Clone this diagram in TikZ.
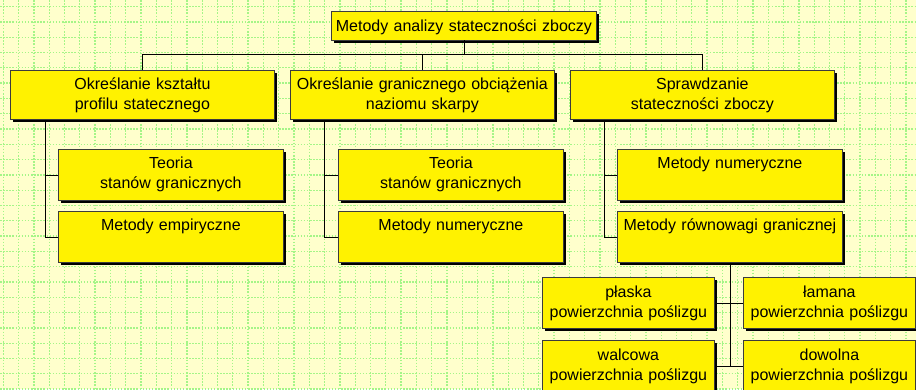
\documentclass[tikz,border=0pt]{standalone}
\usepackage{fontspec}
\setmainfont{Liberation Sans}
\usetikzlibrary{shadows}
\definecolor{paper}{RGB}{255,255,204}
\definecolor{gridgreen}{RGB}{165,245,135}
\definecolor{boxline}{RGB}{60,60,60}
\tikzset{
  box/.style={draw=boxline,line width=0.8pt,fill=yellow,anchor=north west,
    align=center,inner sep=0pt,text height=19pt,text depth=31pt,
    font=\fontsize{16}{20.5}\selectfont,
    drop shadow={shadow xshift=3pt,shadow yshift=-3pt,fill=black,opacity=1}},
  link/.style={draw=black,line width=0.8pt}
}
\begin{document}
\begin{tikzpicture}[x=1pt,y=-1pt]
  % background
  \useasboundingbox (0,0) rectangle (916,389);
  \fill[paper] (0,0) rectangle (916,389);
  \foreach \k in {0,...,59}
    \draw[gridgreen,line width=1.3pt,dash pattern=on 1.5pt off 1.6pt] (3.3+15.3*\k,0) -- (3.3+15.3*\k,389);
  \foreach \k in {0,...,25}
    \draw[gridgreen,line width=1.3pt,dash pattern=on 1.5pt off 1.6pt] (0,6.6+15.3*\k) -- (916,6.6+15.3*\k);

  % top
  \node[box,at={(331,11)},text width=265pt,text height=20.5pt,text depth=8pt] (metody) {Metody analizy stateczności zboczy};

  % main
  \node[box,at={(10,70)},text width=264pt,text depth=30pt] (ksztalt) {Określanie kształtu\\profilu statecznego};
  \node[box,at={(290,70)},text width=264pt,text depth=30pt] (obciaz) {Określanie granicznego obciążenia\\naziomu skarpy};
  \node[box,at={(570,70)},text width=264pt,text depth=30pt] (sprawdz) {Sprawdzanie\\stateczności zboczy};
  %links
  \path (metody.south) ++(0,14) coordinate (bus);
  \draw[link] (metody.south) -- (bus) (bus -| ksztalt.north) -- (bus -| sprawdz.north);
  \foreach \n in {ksztalt,obciaz,sprawdz}
    \draw[link] (bus -| \n.north) -- (\n.north);

  % left
  \node[box,at={(58,149)},text width=225pt,text depth=32pt] (teoriaA) {Teoria\\stanów granicznych};
  \node[box,at={(58,211)},text width=225pt,text depth=32pt] (empir) {Metody empiryczne};
  \draw[link] ([xshift=35pt]ksztalt.south west) |- (empir.west) ([xshift=35pt]ksztalt.south west |- teoriaA.west) -- (teoriaA.west);

  % middle
  \node[box,at={(338,149)},text width=225pt,text depth=32pt] (teoriaB) {Teoria\\stanów granicznych};
  \node[box,at={(338,211)},text width=225pt,text depth=32pt] (numerB) {Metody numeryczne};
  \draw[link] ([xshift=34pt]obciaz.south west) |- (numerB.west) ([xshift=34pt]obciaz.south west |- teoriaB.west) -- (teoriaB.west);

  % right
  \node[box,at={(617,149)},text width=225pt,text depth=32pt] (numerC) {Metody numeryczne};
  \node[box,at={(617,211)},text width=225pt,text depth=32pt] (rownow) {Metody równowagi granicznej};
  \draw[link] ([xshift=34pt]sprawdz.south west) |- (rownow.west) ([xshift=34pt]sprawdz.south west |- numerC.west) -- (numerC.west);

  % bottom
  \node[box,at={(542,277)},text width=172pt,text height=20pt] (plaska) {płaska\\powierzchnia poślizgu};
  \node[box,at={(743,277)},text width=172pt,text height=20pt] (lamana) {łamana\\powierzchnia poślizgu};
  \node[box,at={(542,340)},text width=172pt,text height=20pt] (walcowa) {walcowa\\powierzchnia poślizgu};
  \node[box,at={(743,340)},text width=172pt,text height=20pt] (dowolna) {dowolna\\powierzchnia poślizgu};
  \draw[link] (rownow.south) -- (rownow.south |- walcowa.east);
  \draw[link] (plaska.east) -- (lamana.west) (walcowa.east) -- (dowolna.west);
\end{tikzpicture}
\end{document}
